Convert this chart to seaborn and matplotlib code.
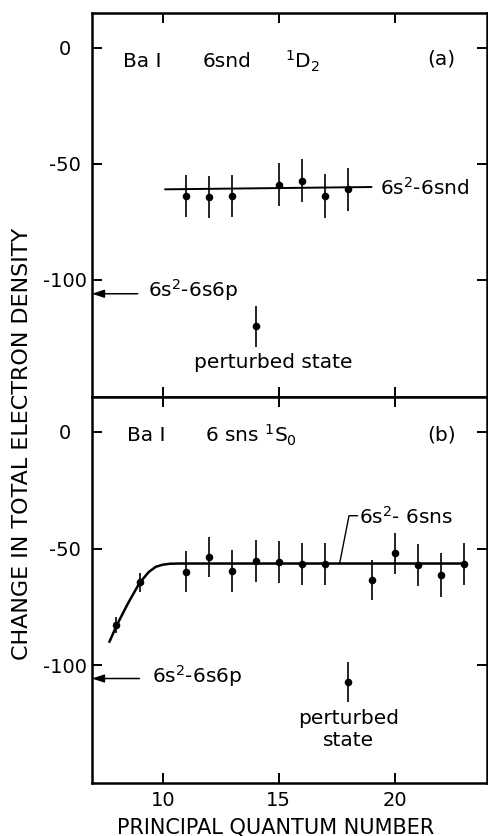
import numpy as np
import pandas as pd
import matplotlib
matplotlib.use("Agg")
import matplotlib.pyplot as plt
import seaborn as sns

# ---- data: panel (a) 6snd 1D2 ----
n_a = [11, 12, 13, 15, 16, 17, 18]
val_a = [-64.0, -64.3, -64.0, -59.0, -57.3, -64.0, -60.9]
err_a = [9.0, 9.0, 9.0, 9.2, 9.2, 9.5, 9.3]
pert_n_a = [14]
pert_val_a = [-120.1]
pert_err_a = [8.7]
fit_n_a = [10.1, 19.0]
fit_val_a = [-61.0, -60.0]

# ---- data: panel (b) 6sns 1S0 ----
n_b = [8, 9, 11, 12, 13, 14, 15, 16, 17, 19, 20, 21, 22, 23]
val_b = [-82.8, -64.5, -60.0, -53.6, -59.6, -55.4, -55.7, -56.7, -56.4,
         -63.3, -52.1, -56.9, -61.4, -56.7]
err_b = [3.5, 4.0, 8.8, 8.7, 9.0, 9.0, 9.0, 9.0, 9.0,
         8.6, 8.9, 9.0, 9.3, 9.0]
pert_n_b = [18]
pert_val_b = [-107.1]
pert_err_b = [8.6]
fit_n_b = [7.7, 8.0, 8.5, 9.0, 9.4, 9.7, 10.0, 10.3, 10.7, 23.0]
fit_val_b = [-90.0, -83.2, -73.5, -64.7, -60.0, -57.8, -56.9, -56.5, -56.4, -56.4]

xticks = [10, 15, 20]
yticks = [0, -50, -100]
xlim = (6.95, 24.0)
ylim = (-150.5, 15.0)

sns.set_theme(style="ticks")
plt.rcParams["font.family"] = ["DejaVu Sans"]
plt.rcParams["axes.unicode_minus"] = False
plt.rcParams["mathtext.fontset"] = "dejavusans"
plt.rcParams["text.color"] = "black"
plt.rcParams["axes.labelcolor"] = "black"
plt.rcParams["xtick.color"] = "black"
plt.rcParams["ytick.color"] = "black"
plt.rcParams["xtick.labelcolor"] = "black"
plt.rcParams["ytick.labelcolor"] = "black"

fig = plt.figure(figsize=(4.89, 8.36), dpi=100)
W, H = 489.0, 836.0
left = 92 / W
width = 395.5 / W
ax_a = fig.add_axes([left, 1 - 397 / H, width, 384 / H])
ax_b = fig.add_axes([left, 1 - 783 / H, width, 386 / H])

FS = 14.5


def style_axis(ax, bottom_labels):
    ax.set_xlim(*xlim)
    ax.set_ylim(*ylim)
    ax.set_xticks(xticks)
    ax.set_yticks(yticks)
    ax.set_yticklabels([str(v) for v in yticks])
    for s in ax.spines.values():
        s.set_visible(True)
        s.set_linewidth(1.8)
        s.set_color("black")
    ax.tick_params(axis="both", which="both", direction="in", length=7,
                   width=1.4, color="black", labelcolor="black", top=True,
                   right=True, bottom=True, left=True, labelsize=14)
    ax.tick_params(axis="y", pad=19.5)
    for lbl in ax.get_yticklabels():
        lbl.set_horizontalalignment("center")
    ax.tick_params(axis="x", pad=6, labelbottom=bottom_labels)
    ax.set_xlabel("")
    ax.set_ylabel("")
    ax.grid(False)
    ax.set_facecolor("white")


def draw_points(ax, n, v, e):
    ax.errorbar(n, v, yerr=e, fmt="none", ecolor="black", elinewidth=1.2,
                capsize=0, zorder=3)
    sns.scatterplot(x=n, y=v, ax=ax, color="black", s=30, edgecolor="black",
                    linewidth=0, zorder=4, legend=False)


# ---- panel (a) ----
sns.lineplot(x=fit_n_a, y=fit_val_a, ax=ax_a, color="black", linewidth=1.4,
             estimator=None, sort=False)
draw_points(ax_a, n_a, val_a, err_a)
draw_points(ax_a, pert_n_a, pert_val_a, pert_err_a)
style_axis(ax_a, False)

ax_a.text(8.28, -6, "Ba I", fontsize=FS, ha="left", va="center")
ax_a.text(11.72, -6, "6snd", fontsize=FS, ha="left", va="center")
ax_a.text(15.26, -6, r"$^{1}$D$_{2}$", fontsize=FS, ha="left", va="center")
ax_a.text(21.42, -5, "(a)", fontsize=FS, ha="left", va="center")
ax_a.text(19.35, -60.5, r"6s$^{2}$-6snd", fontsize=FS, ha="left", va="center")
ax_a.annotate("", xy=(xlim[0], -106), xytext=(8.92, -106),
              arrowprops=dict(arrowstyle="-|>,head_length=0.6,head_width=0.2",
                              color="black", lw=1.1, shrinkA=0, shrinkB=0))
ax_a.text(9.35, -104.5, r"6s$^{2}$-6s6p", fontsize=FS, ha="left", va="center")
ax_a.text(14.77, -135.5, "perturbed state", fontsize=FS, ha="center", va="center")

# ---- panel (b) ----
sns.lineplot(x=fit_n_b, y=fit_val_b, ax=ax_b, color="black", linewidth=1.8,
             estimator=None, sort=False)
draw_points(ax_b, n_b, val_b, err_b)
draw_points(ax_b, pert_n_b, pert_val_b, pert_err_b)
style_axis(ax_b, True)

ax_b.text(8.45, -1.5, "Ba I", fontsize=FS, ha="left", va="center")
ax_b.text(11.81, -1.5, r"6 sns $^{1}$S$_{0}$", fontsize=FS, ha="left", va="center")
ax_b.text(21.42, -1.5, "(b)", fontsize=FS, ha="left", va="center")
ax_b.plot([17.63, 18.03, 18.4], [-56.1, -35.9, -35.9], color="black", lw=1.0)
ax_b.text(18.48, -36.4, r"6s$^{2}$- 6sns", fontsize=FS, ha="left", va="center")
ax_b.annotate("", xy=(xlim[0], -105.7), xytext=(9.0, -105.7),
              arrowprops=dict(arrowstyle="-|>,head_length=0.6,head_width=0.2",
                              color="black", lw=1.1, shrinkA=0, shrinkB=0))
ax_b.text(9.53, -104.5, r"6s$^{2}$-6s6p", fontsize=FS, ha="left", va="center")
ax_b.text(18.0, -122.8, "perturbed", fontsize=FS, ha="center", va="center")
ax_b.text(18.0, -132.3, "state", fontsize=FS, ha="center", va="center")

ax_b.set_xlabel("PRINCIPAL QUANTUM NUMBER", fontsize=15, color="black",
                va="center")
ax_b.xaxis.set_label_coords((276 - 92) / 395.5, -(827 - 783) / 386.0)
fig.text(22 / W, 1 - 444 / H, "CHANGE IN TOTAL ELECTRON DENSITY", fontsize=16,
         rotation=90, ha="center", va="center", color="black")

fig.savefig("out.png", dpi=100, facecolor="white")
